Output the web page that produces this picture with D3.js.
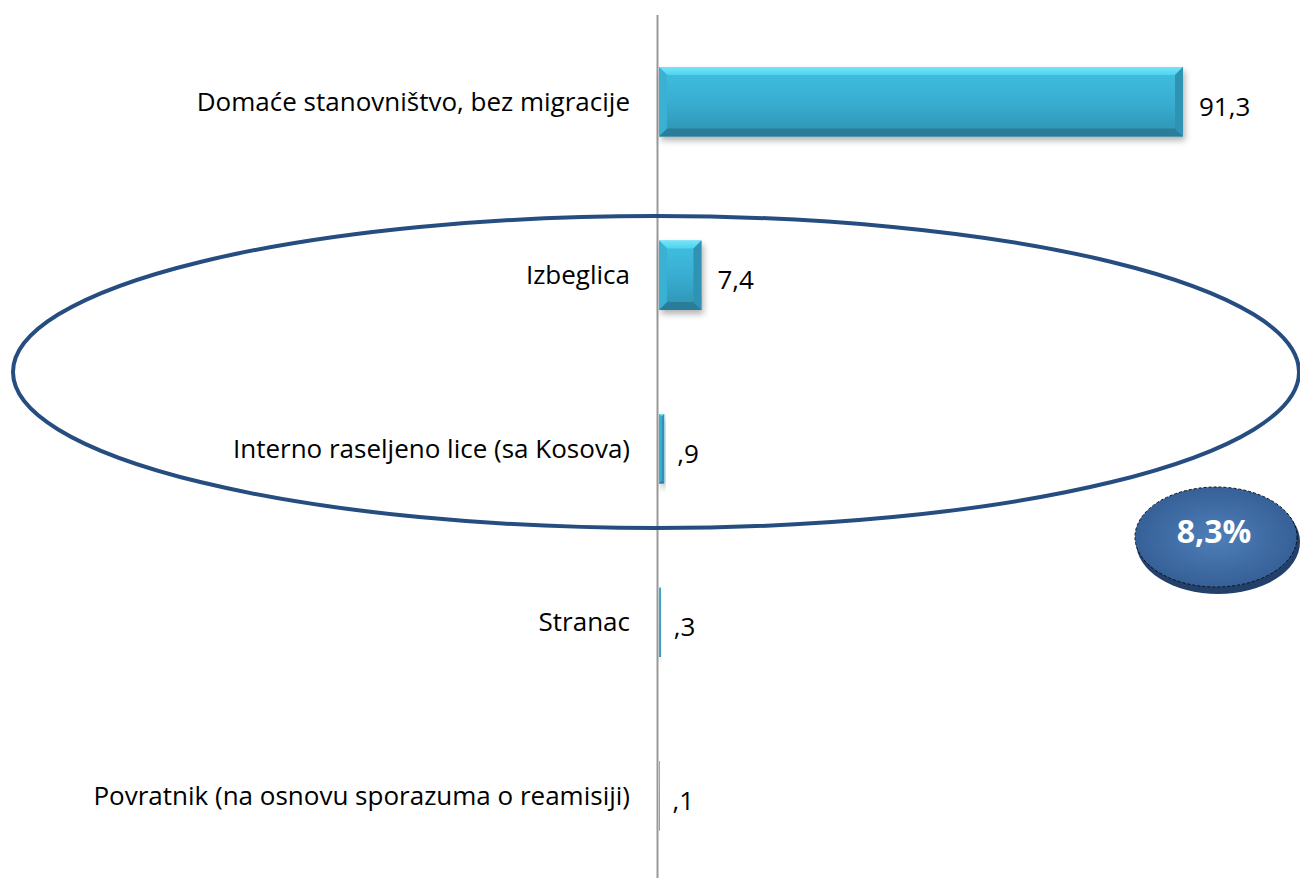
<!DOCTYPE html>
<html><head><meta charset="utf-8">
<script src="https://cdn.jsdelivr.net/npm/d3@7"></script>
<style>body{margin:0;background:#fff}svg{display:block}</style>
</head><body>
<script>
const categories = ["Domaće stanovništvo, bez migracije","Izbeglica","Interno raseljeno lice (sa Kosova)","Stranac","Povratnik (na osnovu sporazuma o reamisiji)"];
const values = [91.3, 7.4, 0.9, 0.3, 0.1];
const calloutText = "8,3%";

const W = 1300, H = 878;
const svg = d3.select("body").append("svg").attr("width", W).attr("height", H);
const defs = svg.append("defs");

const g1 = defs.append("linearGradient").attr("id","barGrad").attr("x1",0).attr("y1",0).attr("x2",0).attr("y2",1);
g1.append("stop").attr("offset","0%").attr("stop-color","#40c0e0");
g1.append("stop").attr("offset","50%").attr("stop-color","#38aed2");
g1.append("stop").attr("offset","100%").attr("stop-color","#2f92b0");
const gt = defs.append("linearGradient").attr("id","topBevel").attr("x1",0).attr("y1",0).attr("x2",0).attr("y2",1);
gt.append("stop").attr("offset","0%").attr("stop-color","#72e6fa");
gt.append("stop").attr("offset","100%").attr("stop-color","#50d2ee");
const rg = defs.append("radialGradient").attr("id","ovalGrad").attr("cx","50%").attr("cy","50%").attr("r","60%");
rg.append("stop").attr("offset","0%").attr("stop-color","#4f7fb8");
rg.append("stop").attr("offset","100%").attr("stop-color","#315a91");
const sh = defs.append("filter").attr("id","shadow").attr("x","-10%").attr("y","-20%").attr("width","130%").attr("height","160%");
sh.append("feDropShadow").attr("dx",2).attr("dy",4).attr("stdDeviation",3).attr("flood-color","#000").attr("flood-opacity",0.3);

const x0 = 659;
const x = d3.scaleLinear().domain([0, 91.3]).range([x0, 1183]);
const y = d3.scaleBand().domain(categories).range([15, 882.5]).paddingInner(0.6).paddingOuter(0.3);

// axis line
svg.append("line").attr("x1",657.5).attr("x2",657.5).attr("y1",15).attr("y2",H).attr("stroke","#999").attr("stroke-width",2);

const fmt = v => d3.format(".1f")(v).replace(/^0/,"").replace(".",",");

const bars = svg.append("g").selectAll("g").data(values).join("g");
bars.each(function(v,i){
  const gg = d3.select(this);
  const bx = x(0), bw = x(v) - x(0), by = y(categories[i]), bh = y.bandwidth();
  gg.append("rect").attr("x",bx).attr("y",by).attr("width",bw).attr("height",bh)
    .attr("fill","url(#barGrad)").attr("filter","url(#shadow)");
  const b = Math.min(8, bw/2);
  gg.append("path").attr("d",`M${bx},${by} L${bx+bw},${by} L${bx+bw-b},${by+b} L${bx+b},${by+b} Z`).attr("fill","url(#topBevel)");
  gg.append("path").attr("d",`M${bx},${by+bh} L${bx+bw},${by+bh} L${bx+bw-b},${by+bh-b} L${bx+b},${by+bh-b} Z`).attr("fill","#2a7d98");
  gg.append("path").attr("d",`M${bx+bw},${by} L${bx+bw},${by+bh} L${bx+bw-b},${by+bh-b} L${bx+bw-b},${by+b} Z`).attr("fill","#2f94b4");
  gg.append("path").attr("d",`M${bx},${by} L${bx},${by+bh} L${bx+b},${by+bh-b} L${bx+b},${by+b} Z`).attr("fill","#3ab0d2");
});

// category labels
svg.append("g").selectAll("text").data(categories).join("text")
  .attr("x",630).attr("y",d => y(d)+y.bandwidth()/2).attr("dy","0.35em")
  .attr("text-anchor","end").attr("font-family","'Open Sans', sans-serif").attr("font-size",26).attr("fill","#000")
  .text(d=>d);

// value labels
svg.append("g").selectAll("text").data(values).join("text")
  .attr("x",(d)=>x(d)+ (d>5?16:13)).attr("y",(d,i)=>y(categories[i])+y.bandwidth()/2+5).attr("dy","0.35em")
  .attr("font-family","'Open Sans', sans-serif").attr("font-size",26).attr("fill","#000")
  .text(d=>fmt(d));

// big ellipse
svg.append("ellipse").attr("cx",656).attr("cy",372).attr("rx",643).attr("ry",156)
  .attr("fill","none").attr("stroke","#264d80").attr("stroke-width",4);

// callout oval
svg.append("ellipse").attr("cx",1218).attr("cy",542).attr("rx",82).attr("ry",52).attr("fill","#23406a");
svg.append("ellipse").attr("cx",1216).attr("cy",537).attr("rx",81).attr("ry",50).attr("fill","url(#ovalGrad)").attr("stroke","#111").attr("stroke-width",1).attr("stroke-dasharray","3,2");
svg.append("text").attr("x",1214).attr("y",532).attr("dy","0.35em").attr("text-anchor","middle")
  .attr("font-family","'Open Sans', sans-serif").attr("font-weight","bold").attr("font-size",32).attr("fill","#fff").text(calloutText);
</script>
</body></html>
